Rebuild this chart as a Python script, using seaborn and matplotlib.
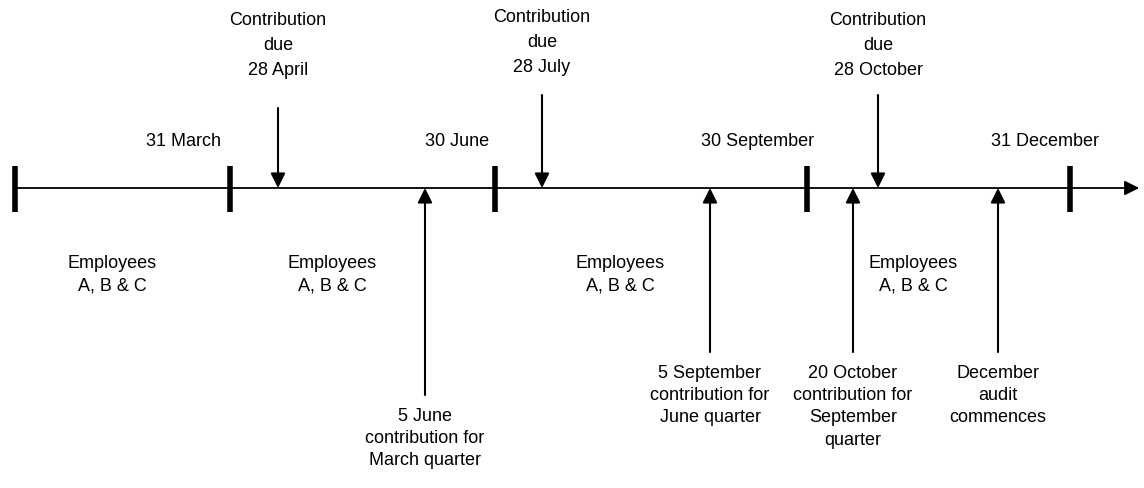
import matplotlib
matplotlib.use("Agg")
import matplotlib.pyplot as plt
import seaborn as sns
import pandas as pd

# timeline positions (diagram units, left to right)
period_x = [15, 230, 495, 807, 1070]
period_labels = ["", "31 March", "30 June", "30 September", "31 December"]
period_label_x = [None, 183, 457, 758, 1045]

group_x = [112, 332, 620, 913]
group_label = "Employees\nA, B & C"

due_x = [278, 542, 878]
due_top = [108, 95, 95]
due_label_y = [12, 9, 12]
due_labels = ["Contribution\ndue\n28 April", "Contribution\ndue\n28 July", "Contribution\ndue\n28 October"]

event_x = [425, 710, 853, 998]
event_bottom = [395, 352, 352, 352]
event_labels = [
    "5 June\ncontribution for\nMarch quarter",
    "5 September\ncontribution for\nJune quarter",
    "20 October\ncontribution for\nSeptember\nquarter",
    "December\naudit\ncommences",
]

axis_y = 188
axis_end = 1142

sns.set_theme(style="white")
plt.rcParams["font.family"] = ["Liberation Sans", "DejaVu Sans"]

fig = plt.figure(figsize=(11.44, 4.88), dpi=100)
ax = fig.add_axes([0, 0, 1, 1])
ax.set_xlim(0, 1144)
ax.set_ylim(488, 0)
ax.axis("off")

fs = 13

# main axis
line_df = pd.DataFrame({"x": [period_x[0], axis_end - 14], "y": [axis_y, axis_y]})
sns.lineplot(data=line_df, x="x", y="y", color="black", linewidth=1.3, ax=ax)
ax.annotate("", xy=(axis_end, axis_y), xytext=(axis_end - 16, axis_y),
            arrowprops=dict(arrowstyle="-|>", color="black", lw=1.3, mutation_scale=22))

# quarter boundaries
for x in period_x:
    ax.plot([x, x], [166, 212], color="black", linewidth=4, solid_capstyle="butt")

for x, lab in zip(period_label_x, period_labels):
    if x is not None:
        ax.text(x, 141, lab, ha="center", va="center", fontsize=fs, color="black")

for x in group_x:
    ax.text(x, 275, group_label, ha="center", va="center", fontsize=fs,
            color="black", linespacing=1.4)

# contributions due (from above)
for x, top, ly, lab in zip(due_x, due_top, due_label_y, due_labels):
    ax.annotate("", xy=(x, axis_y), xytext=(x, top),
                arrowprops=dict(arrowstyle="-|>", color="black", lw=1.5,
                                mutation_scale=22, shrinkA=0, shrinkB=0))
    ax.text(x, ly, lab, ha="center", va="top", fontsize=fs, color="black",
            linespacing=1.6)

# events (from below)
for x, bot, lab in zip(event_x, event_bottom, event_labels):
    ax.annotate("", xy=(x, axis_y), xytext=(x, bot),
                arrowprops=dict(arrowstyle="-|>", color="black", lw=1.5,
                                mutation_scale=22, shrinkA=0, shrinkB=0))
    ax.text(x, bot + 13, lab, ha="center", va="top", fontsize=fs, color="black",
            linespacing=1.4)

fig.savefig("out.png", dpi=100)
